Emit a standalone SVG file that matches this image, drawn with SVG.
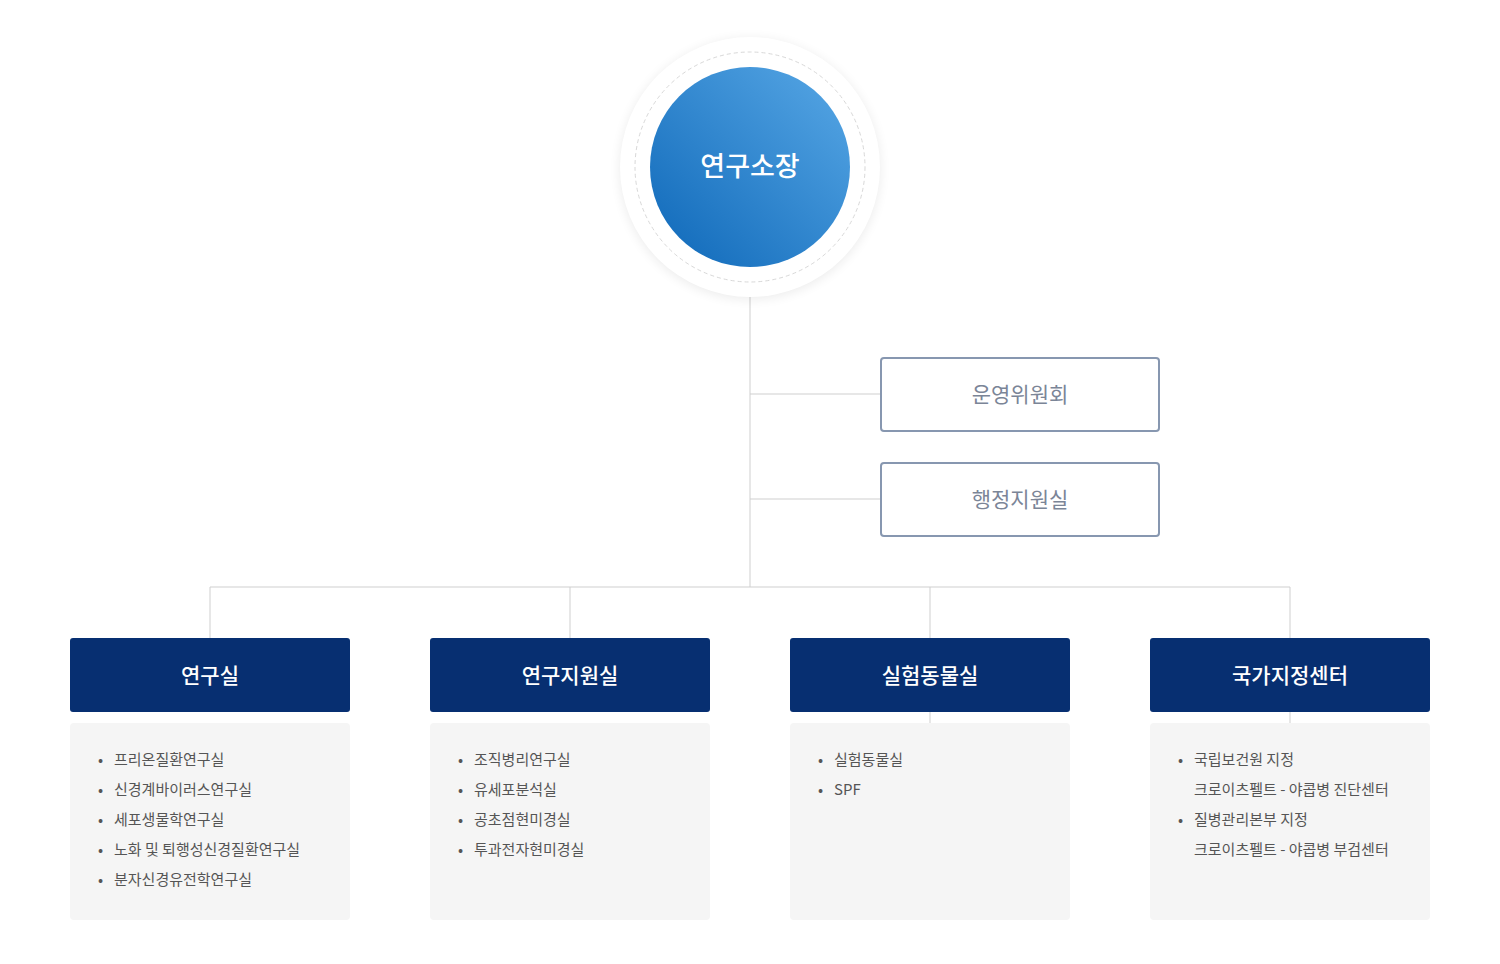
<svg xmlns="http://www.w3.org/2000/svg" width="1500" height="964" viewBox="0 0 1500 964">
<defs>
<style>
.ln{stroke:#cfcfcf;stroke-width:1;fill:none}
.sub{fill:#fff;stroke:#8797b0;stroke-width:2}
.subt{font-family:"Noto Sans CJK KR",sans-serif;font-size:21px;fill:#7b8597;text-anchor:middle}
.hd{fill:#072f71}
.hdt{font-family:"Noto Sans CJK KR",sans-serif;font-size:21px;font-weight:500;fill:#fff;text-anchor:middle}
.bx{fill:#f5f5f5}
.it{font-family:"Noto Sans CJK KR",sans-serif;font-size:15px;fill:#555}
</style>
<linearGradient id="g" x1="1" y1="0" x2="0" y2="1"><stop offset="0" stop-color="#58a8e6"/><stop offset="1" stop-color="#0d67b8"/></linearGradient>
<filter id="sh" x="-30%" y="-30%" width="160%" height="160%"><feGaussianBlur stdDeviation="6"/></filter>
</defs>
<g id="connectors">
<path class="ln" d="M750 297V587M750 394H881M750 499H881M210 587H1290M210 587V638M570 587V638M930 587V638M1290 587V638M930 712V723M1290 712V723"/>
</g>
<g id="director">
<circle cx="750" cy="169" r="130" fill="#000" opacity="0.08" filter="url(#sh)"/>
<circle cx="750" cy="167" r="130" fill="#fff"/>
<circle cx="750" cy="167" r="115" fill="none" stroke="#d8d8d8" stroke-dasharray="4 3"/>
<circle cx="750" cy="167" r="100" fill="url(#g)"/>
<text x="750" y="176" class="hdt" font-size="27" style="font-size:27px">연구소장</text>
</g>
<g id="n1"><rect class="sub" x="881" y="358" width="278" height="73" rx="3"/><text class="subt" x="1020" y="402">운영위원회</text></g>
<g id="n2"><rect class="sub" x="881" y="463" width="278" height="73" rx="3"/><text class="subt" x="1020" y="507">행정지원실</text></g>
<g id="d1"><rect class="bx" x="70" y="723" width="280" height="197" rx="4"/><rect class="hd" x="70" y="638" width="280" height="74" rx="3"/><text class="hdt" x="210" y="683">연구실</text>
<text class="it"><tspan x="98" y="765">•</tspan><tspan x="114" y="765">프리온질환연구실</tspan><tspan x="98" y="795">•</tspan><tspan x="114" y="795">신경계바이러스연구실</tspan><tspan x="98" y="825">•</tspan><tspan x="114" y="825">세포생물학연구실</tspan><tspan x="98" y="855">•</tspan><tspan x="114" y="855">노화 및 퇴행성신경질환연구실</tspan><tspan x="98" y="885">•</tspan><tspan x="114" y="885">분자신경유전학연구실</tspan></text></g>
<g id="d2"><rect class="bx" x="430" y="723" width="280" height="197" rx="4"/><rect class="hd" x="430" y="638" width="280" height="74" rx="3"/><text class="hdt" x="570" y="683">연구지원실</text>
<text class="it"><tspan x="458" y="765">•</tspan><tspan x="474" y="765">조직병리연구실</tspan><tspan x="458" y="795">•</tspan><tspan x="474" y="795">유세포분석실</tspan><tspan x="458" y="825">•</tspan><tspan x="474" y="825">공초점현미경실</tspan><tspan x="458" y="855">•</tspan><tspan x="474" y="855">투과전자현미경실</tspan></text></g>
<g id="d3"><rect class="bx" x="790" y="723" width="280" height="197" rx="4"/><rect class="hd" x="790" y="638" width="280" height="74" rx="3"/><text class="hdt" x="930" y="683">실험동물실</text>
<text class="it"><tspan x="818" y="765">•</tspan><tspan x="834" y="765">실험동물실</tspan><tspan x="818" y="795">•</tspan><tspan x="834" y="795">SPF</tspan></text></g>
<g id="d4"><rect class="bx" x="1150" y="723" width="280" height="197" rx="4"/><rect class="hd" x="1150" y="638" width="280" height="74" rx="3"/><text class="hdt" x="1290" y="683">국가지정센터</text>
<text class="it"><tspan x="1178" y="765">•</tspan><tspan x="1194" y="765">국립보건원 지정</tspan><tspan x="1194" y="795">크로이츠펠트 - 야콥병 진단센터</tspan><tspan x="1178" y="825">•</tspan><tspan x="1194" y="825">질병관리본부 지정</tspan><tspan x="1194" y="855">크로이츠펠트 - 야콥병 부검센터</tspan></text></g>
</svg>
